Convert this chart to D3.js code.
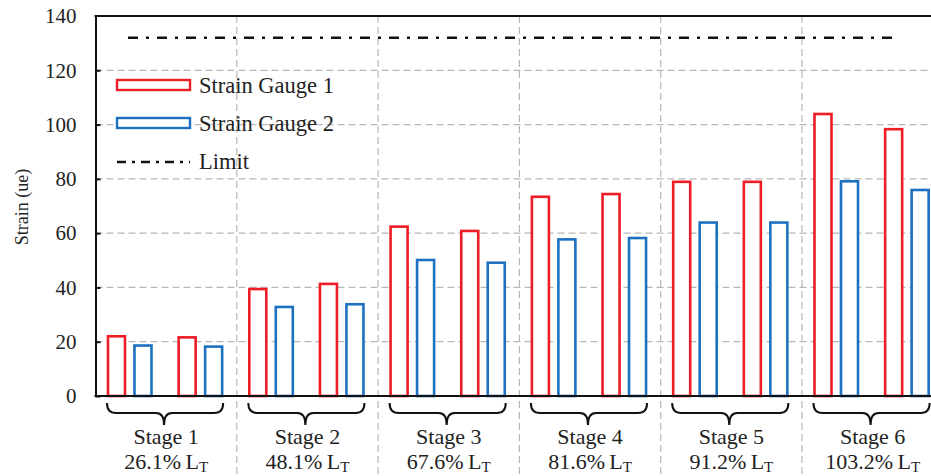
<!DOCTYPE html>
<html>
<head>
<meta charset="utf-8">
<script src="https://cdn.jsdelivr.net/npm/d3@7"></script>
<style>
  html, body { margin: 0; padding: 0; background: #fff; }
  svg { display: block; }
  text { font-family: "Liberation Serif", "Times New Roman", "DejaVu Serif", serif; fill: #222; }
</style>
</head>
<body>
<svg id="chart" width="931" height="476"></svg>
<script>
// ---- data ----
const stages = ["Stage 1", "Stage 2", "Stage 3", "Stage 4", "Stage 5", "Stage 6"];
const loadLevels = ["26.1%", "48.1%", "67.6%", "81.6%", "91.2%", "103.2%"];
const categories = ["S1-a","S1-b","S2-a","S2-b","S3-a","S3-b","S4-a","S4-b","S5-a","S5-b","S6-a","S6-b"];
const seriesNames = ["Strain Gauge 1", "Strain Gauge 2"];
const gauge1 = [22.0, 21.6, 39.4, 41.3, 62.4, 60.8, 73.4, 74.4, 78.9, 78.9, 103.9, 98.3];
const gauge2 = [18.6, 18.2, 32.8, 33.8, 50.1, 49.1, 57.7, 58.2, 63.9, 63.9, 79.1, 75.9];
const limitValue = 132;
const yTicks = [0, 20, 40, 60, 80, 100, 120, 140];

// ---- layout ----
const W = 931, H = 476;
const pLeft = 95.5, bandW = 141.3;
const pRight = pLeft + stages.length * bandW;
const pTop = 16, pBottom = 396;
const colors = ["#ee1c25", "#1e70c1"];
const gridColor = "#b8b8b8";

const svg = d3.select("#chart");

const x0 = d3.scaleBand().domain(categories).range([pLeft, pRight]);
const xs = d3.scaleBand().domain(stages).range([pLeft, pRight]);
const x1 = d3.scaleBand().domain(seriesNames).range([0, x0.bandwidth()])
  .paddingInner(0.358).paddingOuter(0.512).align(0.46);
const y = d3.scaleLinear().domain([0, 140]).range([pBottom, pTop]);

// horizontal grid
svg.append("g").selectAll("line").data(yTicks.filter(t => t > 0 && t < 140)).join("line")
  .attr("x1", pLeft).attr("x2", pRight)
  .attr("y1", d => y(d)).attr("y2", d => y(d))
  .attr("stroke", gridColor).attr("stroke-width", 1.2).attr("stroke-dasharray", "7,4");

// vertical grid at stage boundaries
svg.append("g").selectAll("line").data(stages.slice(1)).join("line")
  .attr("x1", d => xs(d)).attr("x2", d => xs(d))
  .attr("y1", pTop).attr("y2", H)
  .attr("stroke", gridColor).attr("stroke-width", 1.2).attr("stroke-dasharray", "7,4");

// limit line
svg.append("line")
  .attr("x1", 128).attr("x2", 897)
  .attr("y1", y(limitValue)).attr("y2", y(limitValue))
  .attr("stroke", "#111").attr("stroke-width", 2.6)
  .attr("stroke-dasharray", "10,8,3,8");

// bars
const rows = categories.map((c, i) => ({ cat: c, vals: [gauge1[i], gauge2[i]] }));
const g = svg.append("g");
rows.forEach(r => {
  r.vals.forEach((v, k) => {
    g.append("rect")
      .attr("x", x0(r.cat) + x1(seriesNames[k]))
      .attr("y", y(v))
      .attr("width", x1.bandwidth())
      .attr("height", y(0) - y(v))
      .attr("fill", "#fff")
      .attr("stroke", colors[k])
      .attr("stroke-width", 2.6);
  });
});

// axes
const yAxis = d3.axisLeft(y).tickValues(yTicks).tickSize(-5).tickSizeOuter(0).tickPadding(19);
const ay = svg.append("g").attr("transform", `translate(${pLeft},0)`).call(yAxis);
ay.select(".domain").attr("stroke", "#111").attr("stroke-width", 2);
ay.selectAll(".tick line").attr("stroke", "#111").attr("stroke-width", 2);
ay.selectAll(".tick text").style("font-family", '"Liberation Serif", "Times New Roman", serif')
  .style("font-size", "21px").attr("fill", "#222");
ay.selectAll(".tick").filter(d => d === 140).select("line").remove();

// top border and baseline
svg.append("line").attr("x1", pLeft - 1).attr("x2", W).attr("y1", pTop).attr("y2", pTop)
  .attr("stroke", "#111").attr("stroke-width", 2);
svg.append("line").attr("x1", pLeft - 1).attr("x2", W).attr("y1", pBottom).attr("y2", pBottom)
  .attr("stroke", "#111").attr("stroke-width", 2.2);

// y axis title
svg.append("text")
  .attr("transform", `translate(28,207) rotate(-90)`)
  .attr("text-anchor", "middle")
  .style("font-size", "18px")
  .text("Strain (ue)");

// braces + stage labels
stages.forEach((s, i) => {
  const a = categories[i * 2], b = categories[i * 2 + 1];
  const xa = x0(a) + x1(seriesNames[0]) - 1;
  const xb = x0(b) + x1(seriesNames[1]) + x1.bandwidth() + 1;
  const cx = (xa + xb) / 2 - 1;
  const ya = 403, yb = 413, yc = 425;
  const p = `M${xa},${ya} Q${xa},${yb} ${xa + 9},${yb} L${cx - 8},${yb} Q${cx},${yb} ${cx},${yc} Q${cx},${yb} ${cx + 8},${yb} L${xb - 9},${yb} Q${xb},${yb} ${xb},${ya}`;
  svg.append("path").attr("d", p).attr("fill", "none").attr("stroke", "#111").attr("stroke-width", 2);

  const mx = xs(s) + xs.bandwidth() / 2;
  svg.append("text").attr("x", mx).attr("y", 444).attr("text-anchor", "middle")
    .style("font-size", "22px").text(s);
  const t = svg.append("text").attr("x", mx).attr("y", 469).attr("text-anchor", "middle")
    .style("font-size", "22px");
  t.append("tspan").text(loadLevels[i] + "\u2009L");
  t.append("tspan").attr("dy", 3).style("font-size", "15px").text("T");
});

// legend
const legend = svg.append("g");
const lx = 117, lw = 73;
[85, 123].forEach((ly, k) => {
  legend.append("rect").attr("x", lx).attr("y", ly - 5).attr("width", lw).attr("height", 10)
    .attr("fill", "#fff").attr("stroke", colors[k]).attr("stroke-width", 2.4);
  legend.append("text").attr("x", 199).attr("y", ly + 8).style("font-size", "22.5px").text(seriesNames[k]);
});
legend.append("line").attr("x1", lx).attr("x2", lx + lw).attr("y1", 162).attr("y2", 162)
  .attr("stroke", "#111").attr("stroke-width", 2.6).attr("stroke-dasharray", "9,6,3,6");
legend.append("text").attr("x", 199).attr("y", 169).style("font-size", "22.5px").text("Limit");
</script>
</body>
</html>
